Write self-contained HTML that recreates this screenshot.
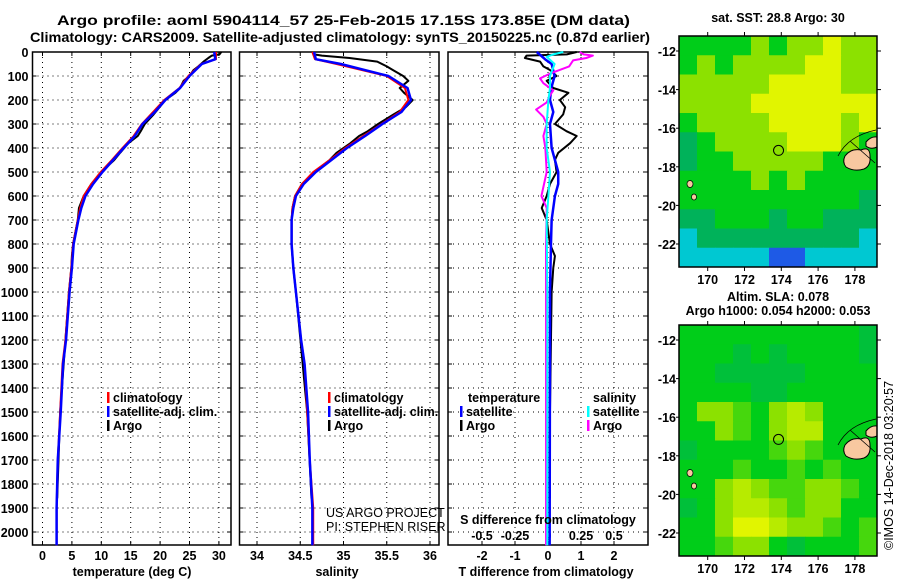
<!DOCTYPE html>
<html><head><meta charset="utf-8"><style>
body{margin:0;background:#fff}
svg{display:block;font-family:"Liberation Sans",sans-serif;font-weight:bold}
text{font-size:12.5px;fill:#000}
</style></head><body>
<svg id="c" width="900" height="580" viewBox="0 0 900 580">
<g>
<text x="57" y="25" textLength="573" lengthAdjust="spacingAndGlyphs" style="font-size:14px">Argo profile: aoml 5904114_57 25-Feb-2015 17.15S 173.85E (DM data)</text>
<text x="30" y="42" textLength="620" lengthAdjust="spacingAndGlyphs" style="font-size:14px">Climatology: CARS2009. Satellite-adjusted climatology: synTS_20150225.nc (0.87d earlier)</text>
</g>
</svg>
<script>
// ---- data ----
const depthTicks=[0,100,200,300,400,500,600,700,800,900,1000,1100,1200,1300,1400,1500,1600,1700,1800,1900,2000];
const tempTicks=[0,5,10,15,20,25,30];
const salTicks=[34,34.5,35,35.5,36];
const tdiffTicks=[-2,-1,0,1,2];
const sdiffTicks=[-0.5,-0.25,0,0.25,0.5];
const sdiffLabels=["-0.5","-0.25","0","0.25","0.5"];
const lonTicks=[170,172,174,176,178];
const latTicks=[-12,-14,-16,-18,-20,-22];

const climDepth=[0,30,50,100,150,200,250,300,350,400,450,500,550,600,650,700,800,900,1000,1200,1300,1500,1700,1900,2055];
const climTemp=[29.5,29.5,27,24.8,23.3,20.7,18.8,16.9,15.5,13.6,11.8,9.9,8.3,7.0,6.4,6.0,5.2,4.9,4.5,3.9,3.4,3.0,2.6,2.4,2.4];
const satTemp=[29.2,29.4,27.1,25.0,23.4,20.9,19.1,17.0,15.7,13.8,12.0,10.2,8.6,7.3,6.6,6.1,5.3,5.0,4.6,4.0,3.5,3.1,2.6,2.4,2.4];
const argoDepth=[0,10,15,25,40,60,75,100,120,150,170,200,230,260,300,330,350,380,420,450,500,550,600,650,700,800,850,900,1000,1500,1860];
const argoTemp=[30.4,30.1,28.8,28.2,27.4,26.5,25.7,25.0,24.0,23.4,22.6,20.9,19.9,18.9,17.4,16.7,16.2,14.6,13.2,12.2,10.0,8.3,7.0,6.2,6.0,5.2,5.0,4.9,4.5,3.0,2.5];
const climSal=[34.64,34.67,34.92,35.50,35.71,35.75,35.65,35.44,35.23,35.02,34.84,34.65,34.52,34.44,34.41,34.40,34.40,34.42,34.45,34.51,34.55,34.58,34.61,34.65,34.65];
const satSal=[34.66,34.68,34.97,35.52,35.74,35.78,35.67,35.45,35.25,35.04,34.86,34.68,34.54,34.45,34.42,34.40,34.40,34.42,34.45,34.51,34.55,34.59,34.61,34.64,34.64];
const argoSal=[34.66,34.66,34.75,35.07,35.39,35.50,35.57,35.69,35.75,35.65,35.70,35.80,35.72,35.58,35.40,35.28,35.18,35.08,34.92,34.84,34.66,34.52,34.44,34.41,34.40,34.40,34.41,34.42,34.45,34.58,34.63];
const blueDepth=[0,30,50,100,150,200,250,300,400,500,550,600,700,800,1000,1200,2055];
const blueDiff=[-0.34,-0.09,0.11,0.2,0.1,0.06,0.16,0.06,0.11,0.31,0.31,0.21,0.11,0.09,0.06,0.06,0.05];
const blackDiff=[0.87,0.57,-0.65,-0.7,-0.24,-0.14,0.06,0.26,-0.04,0.16,0.62,0.36,0.52,0.46,0.21,0.56,0.87,0.67,0.31,0.21,0.26,0.06,-0.04,-0.19,-0.04,0.06,0.21,0.16,0.11,0.06,0.06];
const cyanDepth=[0,10,20,50,100,150,200,300,400,500,600,700,1000,2055];
const cyanDiff=[0.116,0.04,-0.01,0.05,0.015,0.015,0.003,-0.01,-0.01,0.015,0.003,-0.01,-0.005,-0.005];
const magDepth=[0,10,15,25,35,60,90,110,130,160,180,210,240,270,300,350,400,500,600,650,810,2055];
const magDiff=[0.24,0.27,0.34,0.29,0.19,0.16,0.015,-0.06,-0.035,0.04,0.015,-0.01,-0.09,-0.035,-0.01,-0.035,-0.02,-0.01,-0.05,-0.01,-0.015,-0.015];

// map grids (colour index 0 blue .. 5 yellow)
const sstGrid=[
[3,3,3,3,4,3,4,4,5,4,4],[3,4,3,4,4,4,4,5,5,4,4],[4,4,4,4,4,5,5,5,5,4,4],[4,4,4,4,5,5,5,5,5,5,5],
[3,4,4,4,4,5,5,5,5,4,5],[2,3,4,4,4,4,5,5,5,4,3],[2,3,3,4,4,4,4,4,3,3,3],[3,3,3,3,4,3,4,3,3,3,3],
[3,3,3,3,3,3,3,3,3,3,2],[2,2,3,3,3,2,3,3,2,2,2],[1,2,2,2,2,2,2,2,2,2,1],[1,1,1,1,1,0,0,1,1,1,1]];
const slaGrid=[
[3,3,3,3,3,3,3,3,3,3,2.5],[3,3,3,2.5,3,2.5,3,3,3,3,2.5],[3,3,2.5,2.5,2.5,2.5,2.5,3,3,3,3],[3,3,3,3,2.5,2.5,3,3,3,3,3],
[3,4,4,3.5,3,4,4.5,4,3,3,3],[3,3,4,3.5,3,4,4.5,4.5,3,3,3],[2.5,3,3,3,3,3.5,4,3.5,3,3,3],[3,3,3,3.5,3,3,3.5,3,3.5,3,3],
[3,3,4,4.5,4,3.5,3.5,4,4,3.5,3],[2.5,3,4,4.5,4.5,4,3.5,4,4,3,3],[3,3,4,5,5,4.5,4,4,3.5,3,3.5],[3,3,3.5,4,4,3,2.5,3,3,3,3.5]];

const NS='http://www.w3.org/2000/svg';
const svg=document.getElementById('c');
function el(tag,attrs,parent){const e=document.createElementNS(NS,tag);for(const k in attrs)e.setAttribute(k,attrs[k]);(parent||svg).appendChild(e);return e;}
function txt(x,y,s,anchor,parent,size){const t=el('text',{x:x,y:y,'text-anchor':anchor||'start'},parent);if(size)t.style.fontSize=size+'px';t.textContent=s;return t;}

const Y0=52,PB=545;
const yD=d=>Y0+d*0.24;
function panel(name,L,R,x,xt,tickLabels,showY){
  const g=el('g',{});
  
  
  depthTicks.forEach(d=>{el('line',{x1:L,x2:R,y1:yD(d),y2:yD(d),stroke:'#000','stroke-width':1,'stroke-dasharray':'1,4'},g);
    el('line',{x1:L,x2:L+4,y1:yD(d),y2:yD(d),stroke:'#000'},g);el('line',{x1:R-4,x2:R,y1:yD(d),y2:yD(d),stroke:'#000'},g);
    if(showY){const t=txt(L-4,yD(d)+5,String(d),'end',g);}});
  xt.forEach((v,i)=>{el('line',{x1:x(v),x2:x(v),y1:Y0,y2:PB,stroke:'#000','stroke-width':1,'stroke-dasharray':'1,4'},g);
    el('line',{x1:x(v),x2:x(v),y1:PB-4,y2:PB,stroke:'#000'},g);el('line',{x1:x(v),x2:x(v),y1:Y0,y2:Y0+4,stroke:'#000'},g);
    if(tickLabels) txt(x(v),560,tickLabels[i],'middle',g);});
  el('rect',{x:L,y:Y0,width:R-L,height:PB-Y0,fill:'none',stroke:'#000','stroke-width':1.5},g);
  return g;
}
function line(g,name,xs,ds,x,color,w){
  const p=el('polyline',{points:xs.map((v,i)=>x(v)+','+yD(ds[i])).join(' '),fill:'none',stroke:color,'stroke-width':w,'stroke-linejoin':'round'},g);
  
  
}
function legend(g,x,y,color,label){const gg=el('g',{},g);
  
  
  el('rect',{x:x,y:y-10,width:2.5,height:11,fill:color},gg);txt(x+6,y,label,'start',gg);}

// panel 1 temperature
const xT=v=>42.5+v*5.88;
const g1=panel('temperature-panel',32.5,231,xT,tempTicks,tempTicks.map(String),true);
line(g1,'argo-temperature-line',argoTemp,argoDepth,xT,'#000',2);
line(g1,'climatology-temperature-line',climTemp,climDepth,xT,'#f00',2);
line(g1,'satellite-temperature-line',satTemp,climDepth,xT,'#00f',2.5);
legend(g1,107,402,'#f00','climatology');legend(g1,107,416,'#00f','satellite-adj. clim.');legend(g1,107,430,'#000','Argo');
txt(132,576,'temperature (deg C)','middle',g1);

// panel 2 salinity
const xS=v=>257+(v-34)*86.5;
const g2=panel('salinity-panel',239.5,439,xS,salTicks,salTicks.map(String),false);
line(g2,'argo-salinity-line',argoSal,argoDepth,xS,'#000',2);
line(g2,'climatology-salinity-line',climSal,climDepth,xS,'#f00',2);
line(g2,'satellite-salinity-line',satSal,climDepth,xS,'#00f',2.5);
legend(g2,328,402,'#f00','climatology');legend(g2,328,416,'#00f','satellite-adj. clim.');legend(g2,328,430,'#000','Argo');
txt(337,576,'salinity','middle',g2);
const cr=el('g',{},g2);
const c1=txt(326,517,'US ARGO PROJECT','start',cr);c1.style.fontWeight='normal';
const c2=txt(326,531,'PI: STEPHEN RISER','start',cr);c2.style.fontWeight='normal';

// panel 3 differences
const xD=v=>548+v*33, xSD=v=>548+v*132;
const g3=panel('difference-panel',448,648,xD,tdiffTicks,tdiffTicks.map(String),false);
sdiffTicks.forEach((v,i)=>txt(xSD(v),540,sdiffLabels[i],'middle',g3));
line(g3,'argo-temperature-diff-line',blackDiff,argoDepth,xD,'#000',2);
line(g3,'satellite-temperature-diff-line',blueDiff,blueDepth,xD,'#00f',2.5);
line(g3,'argo-salinity-diff-line',magDiff,magDepth,xSD,'#f0f',2);
line(g3,'satellite-salinity-diff-line',cyanDiff,cyanDepth,xSD,'#0ff',2);
txt(468,402,'temperature','start',g3);txt(593,402,'salinity','start',g3);
legend(g3,460,416,'#00f','satellite');legend(g3,460,430,'#000','Argo');
legend(g3,587,416,'#0ff','satellite');legend(g3,587,430,'#f0f','Argo');
txt(548,524,'S difference from climatology','middle',g3);
txt(546,576,'T difference from climatology','middle',g3);

// maps
const pal=[[30,90,230],[0,200,210],[0,178,90],[0,205,25],[140,225,0],[225,245,0]];
function col(v){const i=Math.min(4,Math.floor(v)),f=v-i,a=pal[i],b=pal[i+1];return 'rgb('+a.map((c,k)=>Math.round(c+(b[k]-c)*f)).join(',')+')';}
function map(name,T,grid,title,titleY){
  const L=679,R=877,B=T+231;
  const g=el('g',{});
  const lonX=v=>707.7+(v-170)*18.4, latY=v=>T+15+(-12-v)*19.3;
  const cw=(R-L)/11,ch=(B-T)/12;
  grid.forEach((row,r)=>row.forEach((v,c)=>{const cell=el('rect',{x:L+c*cw,y:T+r*ch,width:cw+0.5,height:ch+0.5,fill:col(v)},g);
    
    }));
  el('path',{d:`M845 ${T+120}q6-8 16-6q9-4 9 6q1 10-6 13q-10 3-18-2q-4-5-1-11z`,fill:'#f8c8a0',stroke:'#000','stroke-width':1},g);
  el('path',{d:`M866 ${T+106}q5-6 11-5v10q-6 3-11-1z`,fill:'#f8c8a0',stroke:'#000','stroke-width':1},g);
  el('path',{d:`M838 ${T+120}q10-20 38-26M850 ${T+105}l25 22`,fill:'none',stroke:'#000','stroke-width':0.8},g);
  el('ellipse',{cx:690,cy:T+148,rx:3,ry:3.5,fill:'#f8c8a0',stroke:'#000','stroke-width':0.7},g);
  el('ellipse',{cx:694,cy:T+161,rx:2.5,ry:3,fill:'#f8c8a0',stroke:'#000','stroke-width':0.7},g);
  el('circle',{cx:lonX(173.85),cy:latY(-17.15),r:5,fill:'none',stroke:'#000','stroke-width':1},g);
  el('rect',{x:L,y:T,width:R-L,height:B-T,fill:'none',stroke:'#000','stroke-width':1.5},g);
  lonTicks.forEach(v=>{el('line',{x1:lonX(v),x2:lonX(v),y1:T-4,y2:T,stroke:'#000'},g);el('line',{x1:lonX(v),x2:lonX(v),y1:B,y2:B+4,stroke:'#000'},g);txt(lonX(v),B+17,String(v),'middle',g);});
  latTicks.forEach(v=>{el('line',{x1:R,x2:R+4,y1:latY(v),y2:latY(v),stroke:'#000'},g);el('line',{x1:L-3,x2:L,y1:latY(v),y2:latY(v),stroke:'#000'},g);txt(L-3,latY(v)+5,String(v),'end',g);});
  title.forEach((s,i)=>txt(778,titleY[i],s,'middle',g));
}
map('sst-map',36,sstGrid,['sat. SST: 28.8 Argo: 30'],[22]);
map('sla-map',325,slaGrid,['Altim. SLA: 0.078','Argo h1000: 0.054 h2000: 0.053'],[301,315]);
const cp=el('text',{x:0,y:0,transform:'translate(893,550) rotate(-90)'});


cp.style.fontWeight='normal';cp.textContent='©IMOS 14-Dec-2018 03:20:57';
</script>
</body></html>
